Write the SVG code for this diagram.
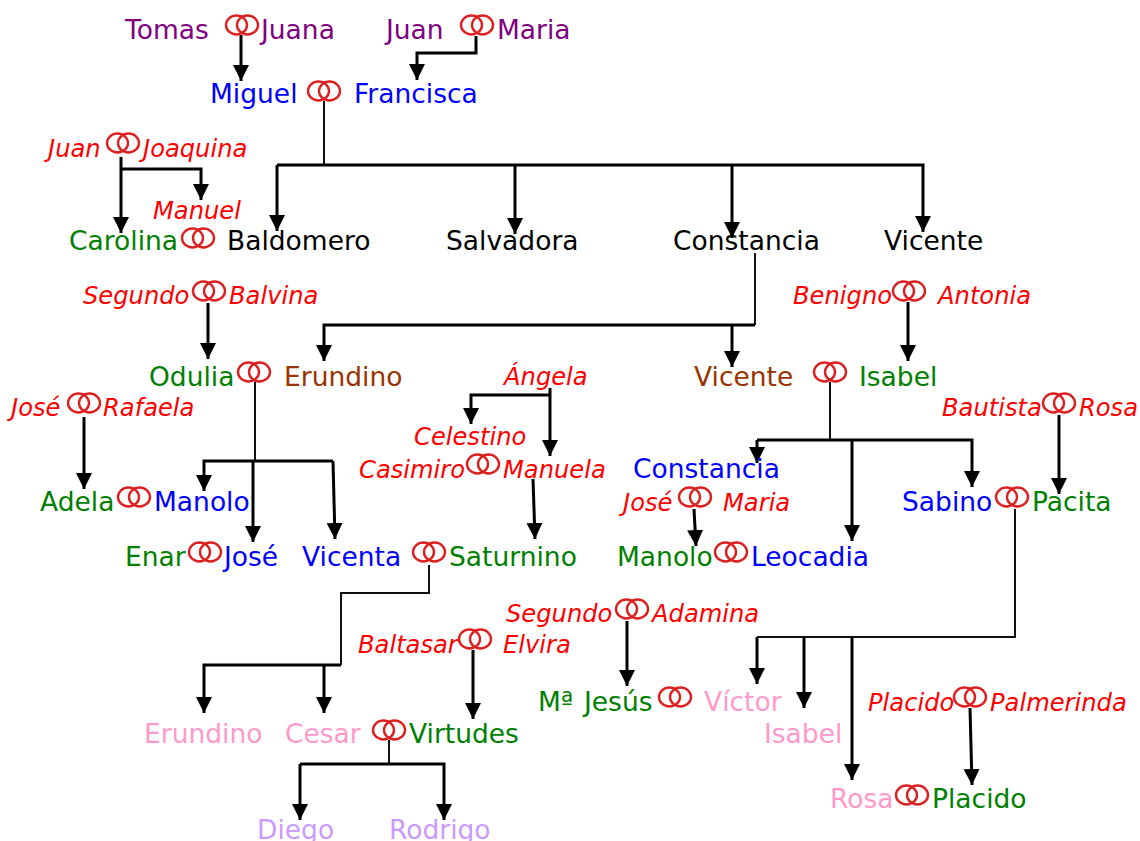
<svg xmlns="http://www.w3.org/2000/svg" width="1140" height="841" viewBox="0 0 1140 841">
<style>
text{font-family:"DejaVu Sans",Verdana,sans-serif;font-size:26.5px}
.i{font-size:24.2px;font-style:italic;fill:#f00}
.p{fill:#800080}.b{fill:#00f}.g{fill:#008000}.k{fill:#000}.m{fill:#993300}.n{fill:#ff99cc}.v{fill:#cc99ff}
.t{fill:none;stroke:#111;stroke-width:2}
.a{fill:none;stroke:#000;stroke-width:3;marker-end:url(#ah)}
.r{fill:none;stroke:#dc2020;stroke-width:2.4}
</style>
<defs>
<marker id="ah" markerUnits="userSpaceOnUse" markerWidth="18" markerHeight="18" refX="16" refY="9" orient="auto"><path d="M0 1L16 9L0 17z" fill="#000"/></marker>
<g id="rings"><ellipse class="r" cx="-5.5" cy="0" rx="10.5" ry="9.5"/><ellipse class="r" cx="5.5" cy="0" rx="10.5" ry="9.5"/></g>
</defs>
<g id="connectors">
<path class="a" d="M241 35V81"/>
<path class="a" d="M476 36V53H417V80"/>
<path class="t" d="M324 101V165"/>
<path class="a" d="M277 165H923V232"/>
<path class="a" d="M277 165V231"/>
<path class="a" d="M515 165V234"/>
<path class="a" d="M732 165V238"/>
<path class="a" d="M121 157V233"/>
<path class="a" d="M121 169H201V200"/>
<path class="t" d="M755 253V325"/>
<path class="a" d="M755 325H324V361"/>
<path class="a" d="M732 325V367"/>
<path class="a" d="M208 303V359"/>
<path class="a" d="M908 302V361"/>
<path class="t" d="M255 382V461"/>
<path class="a" d="M333 461H204V491"/>
<path class="a" d="M253 461V542"/>
<path class="a" d="M333 461L335 539"/>
<path class="a" d="M84 417V489"/>
<path class="a" d="M550 388V456"/>
<path class="a" d="M550 395H471V424"/>
<path class="a" d="M533 479L535 539"/>
<path class="t" d="M830 382V440"/>
<path class="a" d="M757 440H972V487"/>
<path class="a" d="M757 440V463"/>
<path class="a" d="M852 440V541"/>
<path class="a" d="M1059 415V494"/>
<path class="a" d="M694 509L696 546"/>
<path class="t" d="M1015 509V637H757"/>
<path class="a" d="M757 637V684"/>
<path class="a" d="M804 637V708"/>
<path class="a" d="M852 637V780"/>
<path class="t" d="M429 565V593H341V665"/>
<path class="a" d="M341 665H204V713"/>
<path class="a" d="M324 665V713"/>
<path class="a" d="M473 650V719"/>
<path class="a" d="M627 621V686"/>
<path class="a" d="M970 708L972 785"/>
<path class="t" d="M389 740V764"/>
<path class="a" d="M300 764H444V820"/>
<path class="a" d="M300 764V820"/>
</g>
<g id="rings-all">
<use href="#rings" x="242" y="25"/><use href="#rings" x="477" y="25"/><use href="#rings" x="324" y="91"/><use href="#rings" x="123" y="143"/><use href="#rings" x="198" y="238"/><use href="#rings" x="209" y="291"/><use href="#rings" x="909" y="291"/><use href="#rings" x="254" y="372"/><use href="#rings" x="830" y="372"/><use href="#rings" x="84" y="403"/><use href="#rings" x="1059" y="403"/><use href="#rings" x="483" y="464"/><use href="#rings" x="134" y="497"/><use href="#rings" x="695" y="497"/><use href="#rings" x="1012" y="497"/><use href="#rings" x="205" y="552"/><use href="#rings" x="429" y="552"/><use href="#rings" x="731" y="552"/><use href="#rings" x="632" y="609"/><use href="#rings" x="475" y="639"/><use href="#rings" x="675" y="697"/><use href="#rings" x="970" y="697"/><use href="#rings" x="389" y="730"/><use href="#rings" x="912" y="795"/>
</g>
<g id="people" transform="translate(0 1)">
<text id="n1" class="p" x="125" y="38">Tomas</text>
<text id="n2" class="p" x="261" y="38">Juana</text>
<text id="n3" class="p" x="386" y="38">Juan</text>
<text id="n4" class="p" x="497" y="38">Maria</text>
<text id="n5" class="b" x="210" y="102">Miguel</text>
<text id="n6" class="b" x="354" y="102">Francisca</text>
<text id="n7" class="i" x="48" y="156">Juan</text>
<text id="n8" class="i" x="143" y="156">Joaquina</text>
<text id="n9" class="i" x="153" y="218">Manuel</text>
<text id="n10" class="g" x="69" y="249">Carolina</text>
<text id="n11" class="k" x="227" y="249">Baldomero</text>
<text id="n12" class="k" x="446" y="249">Salvadora</text>
<text id="n13" class="k" x="673" y="249">Constancia</text>
<text id="n14" class="k" x="884" y="249">Vicente</text>
<text id="n15" class="i" x="83" y="303">Segundo</text>
<text id="n16" class="i" x="229" y="303">Balvina</text>
<text id="n17" class="i" x="793" y="303">Benigno</text>
<text id="n18" class="i" x="938" y="303">Antonia</text>
<text id="n19" class="g" x="149" y="385">Odulia</text>
<text id="n20" class="m" x="284" y="385">Erundino</text>
<text id="n21" class="i" x="504" y="384">Ángela</text>
<text id="n22" class="m" x="694" y="385">Vicente</text>
<text id="n23" class="g" x="859" y="385">Isabel</text>
<text id="n24" class="i" x="11" y="415">José</text>
<text id="n25" class="i" x="103" y="415">Rafaela</text>
<text id="n26" class="i" x="942" y="415">Bautista</text>
<text id="n27" class="i" x="1079" y="415">Rosa</text>
<text id="n28" class="i" x="414" y="444">Celestino</text>
<text id="n29" class="i" x="359" y="477">Casimiro</text>
<text id="n30" class="i" x="503" y="477">Manuela</text>
<text id="n31" class="b" x="633" y="477">Constancia</text>
<text id="n32" class="i" x="623" y="510">José</text>
<text id="n33" class="i" x="723" y="510">Maria</text>
<text id="n34" class="g" x="40" y="510">Adela</text>
<text id="n35" class="b" x="154" y="510">Manolo</text>
<text id="n36" class="b" x="902" y="510">Sabino</text>
<text id="n37" class="g" x="1032" y="510">Pacita</text>
<text id="n38" class="g" x="125" y="565">Enar</text>
<text id="n39" class="b" x="224" y="565">José</text>
<text id="n40" class="b" x="302" y="565">Vicenta</text>
<text id="n41" class="g" x="449" y="565">Saturnino</text>
<text id="n42" class="g" x="617" y="565">Manolo</text>
<text id="n43" class="b" x="751" y="565">Leocadia</text>
<text id="n44" class="i" x="506" y="621">Segundo</text>
<text id="n45" class="i" x="652" y="621">Adamina</text>
<text id="n46" class="i" x="358" y="652">Baltasar</text>
<text id="n47" class="i" x="503" y="652">Elvira</text>
<text id="n48" class="g" x="538" y="710">Mª <tspan x="584">Jesús</tspan></text>
<text id="n49" class="n" x="704" y="710">Víctor</text>
<text id="n50" class="i" x="868" y="710">Placido</text>
<text id="n51" class="i" x="990" y="710">Palmerinda</text>
<text id="n52" class="n" x="144" y="742">Erundino</text>
<text id="n53" class="n" x="285" y="742">Cesar</text>
<text id="n54" class="g" x="409" y="742">Virtudes</text>
<text id="n55" class="n" x="764" y="742">Isabel</text>
<text id="n56" class="n" x="830" y="807">Rosa</text>
<text id="n57" class="g" x="932" y="807">Placido</text>
<text id="n58" class="v" x="257" y="838">Diego</text>
<text id="n59" class="v" x="389" y="838">Rodrigo</text>
</g>
</svg>
